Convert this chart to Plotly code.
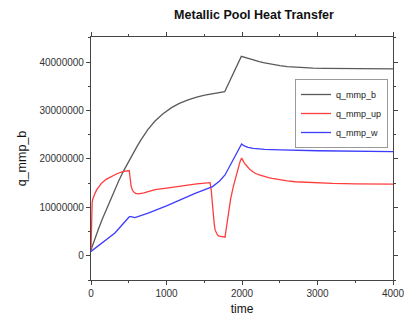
import plotly.graph_objects as go

# q_mmp_b
t_b = [0, 50, 100, 150, 200, 250, 300, 365, 430, 490, 550, 610, 660, 750, 845, 950, 1066, 1170, 1286, 1400,
       1507, 1650, 1771, 1991, 2030, 2079, 2130, 2180, 2230, 2282, 2340, 2400, 2450, 2502, 2600, 2700, 2820,
       2943, 3100, 3300, 3600, 4000]
v_b = [1.2e6, 3.6e6, 5.6e6, 7.6e6, 9.5e6, 11.4e6, 13.2e6, 15.4e6, 17.5e6, 19.3e6, 21.0e6, 22.6e6, 23.9e6,
       26.0e6, 27.8e6, 29.3e6, 30.6e6, 31.5e6, 32.2e6, 32.8e6, 33.2e6, 33.6e6, 33.9e6, 41.2e6, 41.0e6, 40.8e6,
       40.55e6, 40.3e6, 40.1e6, 39.9e6, 39.7e6, 39.55e6, 39.4e6, 39.28e6, 39.1e6, 38.98e6, 38.87e6, 38.79e6,
       38.72e6, 38.67e6, 38.62e6, 38.6e6]

# q_mmp_up
t_up = [0, 3, 8, 15, 25, 40, 53, 75, 100, 140, 200, 272, 350, 420, 493, 505, 510, 515, 522, 530, 545, 559, 590,
        625, 700, 757, 850, 1000, 1200, 1400, 1577, 1585, 1593, 1600, 1610, 1621, 1632, 1643, 1655, 1665, 1687,
        1730, 1775, 1782, 1790, 1819, 1850, 1885, 1920, 1951, 1975, 1995, 2010, 2030, 2050, 2080, 2106, 2140,
        2180, 2230, 2282, 2350, 2400, 2502, 2600, 2700, 2820, 2943, 3200, 3500, 4000]
v_up = [1.2e6, 6.0e6, 10.2e6, 11.0e6, 11.8e6, 12.5e6, 12.9e6, 13.6e6, 14.2e6, 15.0e6, 15.8e6, 16.4e6, 17.0e6,
        17.4e6, 17.7e6, 17.6e6, 17.2e6, 16.3e6, 15.3e6, 14.5e6, 13.7e6, 13.3e6, 12.9e6, 12.8e6, 13.0e6, 13.3e6,
        13.65e6, 14.0e6, 14.5e6, 14.85e6, 15.1e6, 14.6e6, 13.5e6, 12.2e6, 10.0e6, 8.1e6, 6.6e6, 5.4e6, 4.9e6,
        4.6e6, 4.1e6, 3.9e6, 3.85e6, 4.6e6, 5.5e6, 8.8e6, 11.8e6, 14.3e6, 16.5e6, 18.4e6, 19.5e6, 20.2e6,
        19.7e6, 19.2e6, 18.8e6, 18.2e6, 17.8e6, 17.4e6, 17.0e6, 16.7e6, 16.4e6, 16.15e6, 16.0e6, 15.7e6,
        15.5e6, 15.3e6, 15.2e6, 15.1e6, 14.95e6, 14.85e6, 14.8e6]

# q_mmp_w
t_w = [0, 140, 317, 493, 510, 529, 560, 582, 757, 1000, 1379, 1577, 1610, 1700, 1775, 1995, 2010, 2030, 2055,
       2080, 2150, 2300, 2502, 3000, 4000]
v_w = [0.9e6, 2.6e6, 4.7e6, 7.8e6, 8.1e6, 8.1e6, 7.9e6, 7.9e6, 8.8e6, 10.3e6, 12.9e6, 14.2e6, 14.3e6, 15.4e6,
       16.7e6, 23.1e6, 22.9e6, 22.7e6, 22.55e6, 22.4e6, 22.2e6, 22.0e6, 21.9e6, 21.7e6, 21.5e6]

x_ticks = [0, 1000, 2000, 3000, 4000]
y_ticks = [0, 10000000, 20000000, 30000000, 40000000]

fig = go.Figure()
fig.add_trace(go.Scatter(x=t_b, y=v_b, mode="lines", name="q_mmp_b",
                         line=dict(color="rgb(90,90,90)", width=1.3)))
fig.add_trace(go.Scatter(x=t_up, y=v_up, mode="lines", name="q_mmp_up",
                         line=dict(color="rgb(255,60,60)", width=1.3)))
fig.add_trace(go.Scatter(x=t_w, y=v_w, mode="lines", name="q_mmp_w",
                         line=dict(color="rgb(60,60,255)", width=1.3)))

axis_common = dict(showgrid=False, zeroline=False, showline=True, linecolor="#444", linewidth=1.2,
                   mirror="ticks", ticks="outside", ticklen=4, tickcolor="#444", automargin=False,
                   ticklabeloverflow="allow",
                   tickfont=dict(family="Liberation Sans, Arial", size=10, color="#333"))

fig.update_xaxes(range=[0, 4000], tickvals=x_ticks, ticktext=[str(v) for v in x_ticks],
                 minor=dict(dtick=500, ticks="outside", ticklen=2, tickcolor="#444"),
                 title=dict(text="time", font=dict(family="Liberation Sans, Arial", size=12, color="#111"),
                            standoff=6),
                 **axis_common)
fig.update_yaxes(range=[-5e6, 45.2e6], tickvals=y_ticks, ticktext=[str(v) for v in y_ticks],
                 minor=dict(dtick=5e6, ticks="outside", ticklen=2, tickcolor="#444"),
                 title=dict(text="q_mmp_b", font=dict(family="Liberation Sans, Arial", size=12.5, color="#111"),
                            standoff=10),
                 **axis_common)

fig.update_layout(
    width=404, height=320,
    margin=dict(l=91, r=11, t=37, b=40, autoexpand=False),
    paper_bgcolor="white", plot_bgcolor="white",
    title=dict(text="<b>Metallic Pool Heat Transfer</b>", x=254 / 404, xanchor="center",
               y=1 - 15 / 320, yanchor="middle",
               font=dict(family="Liberation Sans, Arial", size=12.5, color="#111")),
    legend=dict(x=(295 - 91) / 302, y=(280 - 79) / 243, xanchor="left", yanchor="top",
                bgcolor="white", bordercolor="#999", borderwidth=1,
                font=dict(family="Liberation Sans, Arial", size=9, color="#222"),
                itemwidth=30, tracegroupgap=0),
    showlegend=True,
)

fig.write_html("out.html")
